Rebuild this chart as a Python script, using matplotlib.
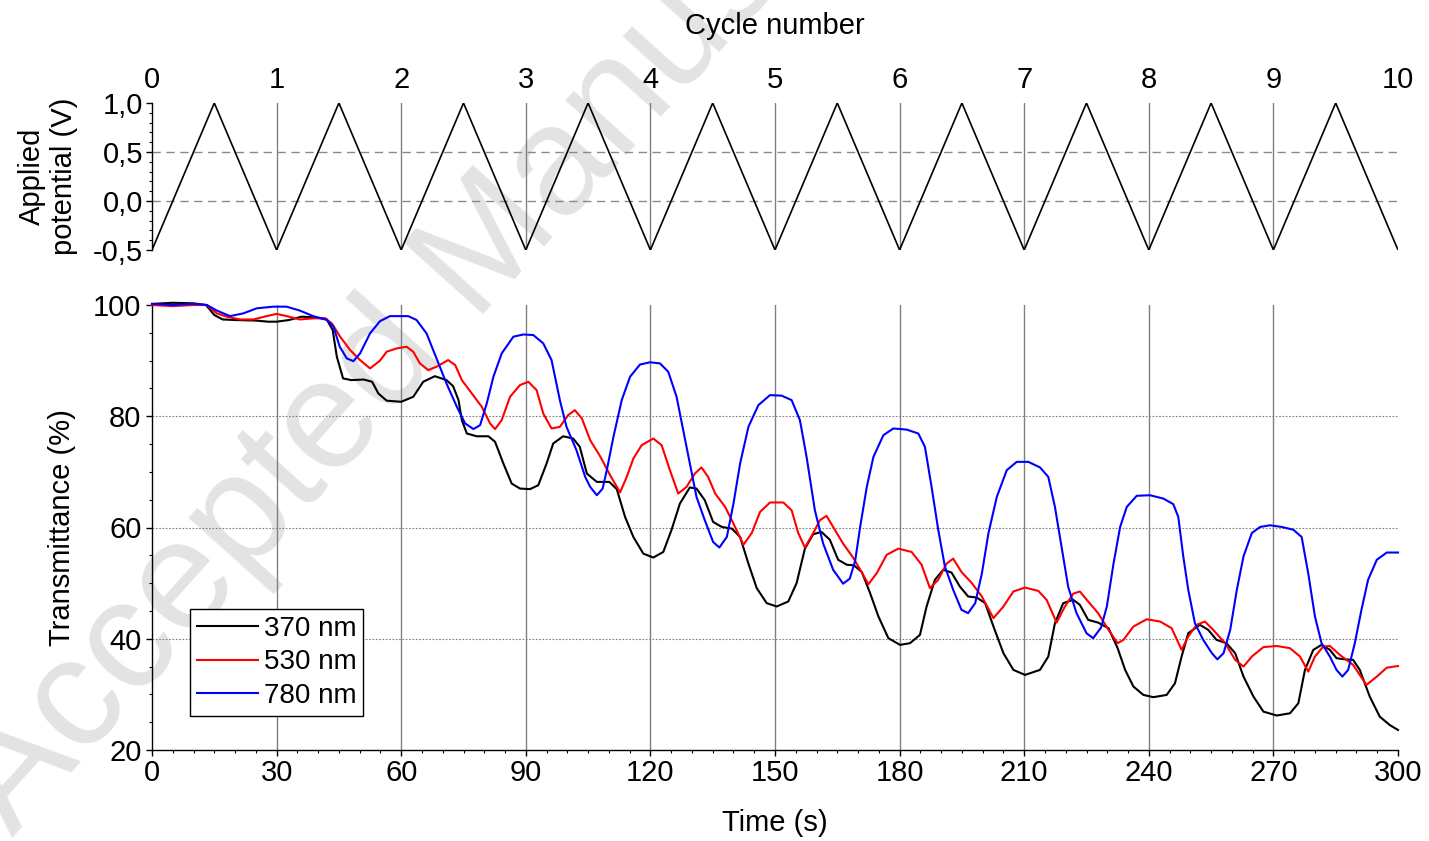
import matplotlib
matplotlib.use('Agg')
import matplotlib.pyplot as plt
from matplotlib.ticker import MultipleLocator

plt.rcParams['font.family'] = ['Liberation Sans', 'DejaVu Sans']

# ---------------- data ----------------
# Applied potential (triangle sweep), vertices in cycle units
cycle_pts = [0, 0.5, 1, 1.5, 2, 2.5, 3, 3.5, 4, 4.5, 5, 5.5, 6, 6.5, 7, 7.5, 8, 8.5, 9, 9.5, 10]
potential = [-0.5, 1.0, -0.5, 1.0, -0.5, 1.0, -0.5, 1.0, -0.5, 1.0, -0.5,
             1.0, -0.5, 1.0, -0.5, 1.0, -0.5, 1.0, -0.5, 1.0, -0.5]
cycle_ticks = [0, 1, 2, 3, 4, 5, 6, 7, 8, 9, 10]
cycle_labels = ['0', '1', '2', '3', '4', '5', '6', '7', '8', '9', '10']
pot_ticks = [-0.5, 0.0, 0.5, 1.0]
pot_labels = ['-0,5', '0,0', '0,5', '1,0']

# Transmittance, 370 nm
t_370 = [0, 5, 10, 13, 15, 17, 20, 25, 28, 30, 33, 36, 39, 42, 43.5, 44.5, 46, 48, 51, 53,
         54.5, 56.5, 60, 62.9, 65.3, 68.1, 70.9, 72.5, 73.8, 74.6, 75.8, 78.2, 81.0, 82.6,
         84.6, 86.6, 88.6, 91.0, 93.0, 95.0, 96.6, 99.0, 101.4, 103.0, 104.7, 107.1, 110.1,
         111.9, 113.9, 115.9, 118.3, 120.7, 123.1, 125.1, 127.1, 129.5, 131.1, 133.1, 135.1,
         137.2, 139.6, 141.6, 143.6, 145.6, 148.0, 150.4, 153.2, 155.2, 157.2, 159.2, 161.2,
         163.2, 165.2, 167.3, 169.0, 170.9, 172.9, 174.9, 177.3, 180.1, 182.5, 184.9, 186.5,
         188.5, 190.5, 192.5, 194.5, 196.5, 198.6, 200.6, 202.6, 205.0, 207.4, 210.2, 213.8,
         215.8, 217.4, 219.4, 221.8, 223.4, 225.4, 227.8, 230.3, 232.5, 234.3, 236.3, 238.7,
         241.1, 244.3, 246.3, 247.9, 249.5, 252.3, 254.3, 256.3, 258.7, 260.8, 262.8, 265.2,
         267.6, 270.8, 274.0, 276.0, 277.6, 279.6, 281.6, 283.6, 285.2, 287.2, 289.2, 290.8,
         293.2, 295.6, 298.0, 300]
T_370 = [100.2, 100.4, 100.3, 100.0, 98.2, 97.4, 97.3, 97.2, 97.0, 97.0, 97.3, 97.9, 97.8, 97.5,
         95.5, 90.7, 86.8, 86.5, 86.6, 86.2, 84.1, 82.8, 82.6, 83.5, 86.2, 87.2, 86.5, 85.4,
         82.9, 79.3, 76.9, 76.4, 76.4, 75.4, 71.5, 67.9, 67.0, 66.9, 67.6, 71.5, 75.1, 76.4,
         76.0, 74.5, 69.7, 68.2, 68.2, 66.9, 61.9, 58.3, 55.3, 54.6, 55.6, 59.6, 64.3, 67.2,
         67.0, 64.9, 61.0, 60.1, 59.8, 58.3, 53.5, 49.1, 46.4, 45.8, 46.7, 50.0, 56.2, 58.8,
         59.2, 57.8, 54.2, 53.3, 53.2, 52.0, 48.2, 44.0, 40.1, 38.9, 39.2, 40.7, 45.8, 50.6,
         52.4, 51.9, 49.4, 47.6, 47.4, 46.4, 42.2, 37.4, 34.4, 33.5, 34.4, 36.8, 42.8, 46.4,
         47.0, 46.1, 43.4, 42.9, 41.9, 38.3, 34.4, 31.4, 29.9, 29.5, 29.9, 32.0, 36.8, 41.0,
         42.5, 41.6, 39.8, 39.2, 37.4, 33.2, 29.6, 26.9, 26.2, 26.6, 28.4, 34.4, 38.0, 38.9,
         38.0, 36.5, 36.3, 36.2, 34.4, 29.6, 26.0, 24.5, 23.6]

# Transmittance, 530 nm
t_530 = [0, 5, 10, 13.2, 15.6, 18, 21.2, 24.4, 27.6, 30, 32.4, 35.6, 38.8, 41.7, 43.3, 45.3,
         47.7, 50.1, 52.5, 54.9, 56.5, 58.9, 61.3, 62.9, 64.5, 66.5, 68.5, 71.3, 73.0, 74.6,
         77.0, 79.4, 81.4, 82.6, 84.2, 86.2, 88.6, 90.6, 92.6, 94.2, 96.2, 98.2, 100.2, 101.8,
         103.5, 105.5, 107.9, 110.3, 112.7, 114.3, 115.9, 117.9, 120.7, 122.7, 124.7, 126.7,
         128.7, 130.7, 132.3, 133.9, 135.6, 138.0, 140.0, 142.4, 144.4, 146.4, 148.8, 152.0,
         154.0, 155.6, 157.2, 159.2, 160.8, 162.4, 164.0, 166.4, 168.8, 170.7, 172.5, 174.5,
         176.9, 179.7, 182.9, 185.3, 187.3, 189.3, 191.3, 192.9, 194.9, 197.4, 199.8, 202.6,
         205.0, 207.4, 210.2, 213.4, 215.4, 217.8, 219.8, 221.8, 223.4, 225.4, 227.8, 230.3,
         232.5, 233.9, 236.3, 239.5, 242.7, 245.5, 247.9, 249.5, 251.5, 253.5, 255.5, 258.4,
         260.8, 262.8, 264.8, 267.6, 270.8, 274.0, 276.4, 278.4, 280.0, 282.0, 283.6, 286.0,
         289.2, 292.4, 294.9, 297.3, 300]
T_530 = [100.0, 99.8, 100.0, 100.0, 98.5, 97.9, 97.4, 97.4, 98.0, 98.4, 98.0, 97.4, 97.6, 97.6,
         96.7, 94.3, 91.9, 90.1, 88.6, 90.0, 91.6, 92.2, 92.5, 91.6, 89.5, 88.3, 88.9, 90.1,
         89.2, 86.5, 84.1, 81.7, 78.7, 77.7, 79.3, 83.5, 85.6, 86.2, 84.7, 80.5, 77.8, 78.1,
         80.2, 81.1, 79.6, 75.7, 72.8, 69.4, 66.3, 69.1, 72.4, 74.8, 76.0, 74.8, 70.3, 66.1,
         67.3, 69.7, 70.8, 69.1, 66.1, 63.7, 60.7, 56.9, 59.0, 62.8, 64.5, 64.5, 63.1, 59.0,
         56.4, 59.0, 61.3, 62.1, 60.1, 57.1, 54.6, 52.2, 49.8, 51.8, 55.1, 56.2, 55.6, 53.3,
         49.1, 50.6, 53.5, 54.4, 52.0, 50.0, 47.6, 43.7, 45.8, 48.5, 49.2, 48.6, 47.0, 42.9,
         45.8, 48.1, 48.5, 46.7, 44.6, 41.6, 39.2, 39.8, 42.2, 43.5, 43.1, 41.9, 38.0, 40.4,
         42.5, 43.1, 41.6, 39.2, 36.2, 35.0, 36.8, 38.5, 38.7, 38.3, 36.8, 34.1, 36.8, 38.6,
         38.7, 37.1, 35.3, 31.7, 33.2, 34.8, 35.1]

# Transmittance, 780 nm
t_780 = [0, 5, 10, 13.2, 15.6, 18.8, 22.0, 25.2, 29.2, 32.4, 35.6, 38.8, 42.1, 43.7, 45.2, 46.9,
         48.5, 50.1, 52.5, 54.9, 57.3, 61.7, 63.7, 66.1, 68.5, 70.9, 73.4, 75.4, 77.4, 79.0,
         80.6, 82.2, 84.2, 87.0, 89.4, 91.8, 94.2, 96.2, 98.2, 99.8, 102.2, 104.3, 105.5, 107.1,
         108.5, 109.5, 111.1, 113.1, 115.1, 117.5, 119.9, 122.3, 124.3, 126.3, 127.9, 129.5, 131.1,
         133.1, 135.1, 136.6, 138.4, 140.0, 141.6, 143.6, 146.0, 148.8, 151.6, 154.0, 156.0,
         157.6, 159.6, 161.6, 164.0, 166.4, 168.0, 169.3, 170.5, 172.1, 173.7, 176.1, 178.5,
         181.7, 184.5, 186.1, 187.7, 189.3, 190.9, 192.9, 194.9, 196.5, 198.2, 199.8, 201.4,
         203.4, 205.8, 208.2, 211.0, 213.8, 215.8, 217.4, 219.0, 220.6, 222.6, 225.0, 226.6,
         228.5, 229.9, 231.5, 233.1, 234.7, 237.1, 240.3, 243.5, 245.9, 247.1, 248.3, 249.5,
         251.1, 253.1, 255.2, 256.5, 258.0, 259.6, 261.2, 262.8, 264.8, 266.8, 269.2, 272.0,
         274.8, 276.8, 278.4, 280.0, 281.6, 283.6, 285.2, 286.6, 288.0, 289.6, 291.2, 292.8,
         294.9, 297.3, 300]
T_780 = [100.2, 100.0, 100.2, 100.0, 99.0, 98.0, 98.5, 99.4, 99.7, 99.7, 99.0, 98.0, 97.3, 96.1,
         92.5, 90.4, 89.9, 91.3, 94.9, 97.1, 98.0, 98.0, 97.3, 94.9, 90.4, 85.9, 81.7, 78.7,
         77.7, 78.4, 82.3, 87.1, 91.3, 94.3, 94.7, 94.6, 93.1, 90.1, 82.9, 78.1, 73.9, 69.1,
         67.3, 65.8, 67.0, 70.3, 76.3, 82.9, 87.1, 89.3, 89.7, 89.5, 88.0, 83.5, 77.5, 71.5, 65.5,
         61.3, 57.4, 56.4, 58.3, 64.3, 71.5, 78.1, 82.0, 83.8, 83.7, 82.9, 79.3, 72.7, 63.1,
         57.1, 52.4, 49.9, 50.8, 54.0, 60.1, 67.3, 72.7, 76.6, 77.8, 77.6, 76.9, 74.5, 67.3,
         59.6, 53.0, 48.8, 45.2, 44.6, 46.4, 51.7, 59.0, 65.5, 70.3, 71.8, 71.8, 70.8, 69.1,
         63.7, 56.5, 49.3, 44.6, 41.0, 40.1, 42.0, 45.8, 53.5, 60.1, 63.7, 65.7, 65.8, 65.2,
         64.2, 61.9, 54.8, 48.8, 42.8, 39.8, 37.4, 36.3, 37.4, 41.6, 48.8, 54.8, 59.0, 60.1,
         60.4, 60.1, 59.6, 58.3, 51.7, 44.0, 39.2, 36.8, 34.4, 33.2, 34.4, 39.2, 45.2, 50.6,
         54.2, 55.5, 55.5]

series_labels = ['370 nm', '530 nm', '780 nm']
series_colors = ['#000000', '#ff0000', '#0000ff']

time_ticks = [0, 30, 60, 90, 120, 150, 180, 210, 240, 270, 300]
time_grid = [30, 60, 90, 120, 150, 180, 210, 240, 270]
trans_ticks = [20, 40, 60, 80, 100]
trans_grid = [40, 60, 80]
cycle_grid = [1, 2, 3, 4, 5, 6, 7, 8, 9]
pot_grid = [0.0, 0.5]

# ---------------- figure ----------------
W, H = 1429, 841
fig = plt.figure(figsize=(W / 100, H / 100), dpi=100)

# watermark
fig.text(12 / W, 1 - 838 / H, 'Accepted Manuscript', rotation=48, fontsize=112,
         color='#e3e3e3', ha='left', va='baseline', rotation_mode='anchor', zorder=-5)

FS = 21
ax_top = fig.add_axes([152 / W, 1 - 250 / H, 1246 / W, 147 / H], facecolor='none')
ax_bot = fig.add_axes([152 / W, 1 - 750 / H, 1246 / W, 445 / H], facecolor='none')

# ---- top panel ----
ax_top.plot(cycle_pts, potential, color='black', lw=1.2, zorder=3)
for c in cycle_grid:
    ax_top.axvline(c, color='#808080', lw=1.0, zorder=1)
for p in pot_grid:
    ax_top.axhline(p, color='#8a8a8a', lw=1.0, ls=(0, (6, 4)), zorder=1)
ax_top.set_xlim(0, 10)
ax_top.set_ylim(-0.5, 1.0)
for s in ['top', 'right', 'bottom']:
    ax_top.spines[s].set_visible(False)
ax_top.spines['left'].set_linewidth(1.0)
ax_top.xaxis.tick_top()
ax_top.set_xticks(cycle_ticks)
ax_top.set_xticklabels(cycle_labels)
ax_top.tick_params(axis='x', which='both', length=0, pad=6.5, labelsize=FS)
ax_top.set_yticks(pot_ticks)
ax_top.set_yticklabels(pot_labels)
ax_top.yaxis.set_minor_locator(MultipleLocator(0.1))
ax_top.tick_params(axis='y', which='major', length=4.5, width=1.0, pad=2, labelsize=FS, direction='out')
ax_top.tick_params(axis='y', which='minor', length=2.5, width=0.8, direction='out')

# ---- bottom panel ----
for x in time_grid:
    ax_bot.axvline(x, color='#808080', lw=1.0, zorder=1)
for y in trans_grid:
    ax_bot.axhline(y, color='#808080', lw=0.8, ls=(0, (1.5, 1.5)), zorder=1)
series = [(t_370, T_370), (t_530, T_530), (t_780, T_780)]
for (tt, vv), lab, col in zip(series, series_labels, series_colors):
    ax_bot.plot(tt, vv, color=col, lw=1.5, label=lab, zorder=3, clip_on=False,
                solid_joinstyle='round')
ax_bot.set_xlim(0, 300)
ax_bot.set_ylim(20, 100)
for s in ['top', 'right']:
    ax_bot.spines[s].set_visible(False)
ax_bot.spines['left'].set_linewidth(1.0)
ax_bot.spines['bottom'].set_linewidth(1.0)
ax_bot.set_xticks(time_ticks)
ax_bot.set_yticks(trans_ticks)
ax_bot.xaxis.set_minor_locator(MultipleLocator(5))
ax_bot.yaxis.set_minor_locator(MultipleLocator(5))
ax_bot.tick_params(axis='both', which='major', length=4.5, width=1.0, labelsize=FS, direction='out')
ax_bot.tick_params(axis='x', which='major', pad=2)
ax_bot.tick_params(axis='y', which='major', pad=3)
ax_bot.tick_params(axis='both', which='minor', length=2.5, width=0.8, direction='out')

leg = ax_bot.legend(loc='lower left', bbox_to_anchor=(38 / 1246, 34 / 445), borderaxespad=0,
                    fontsize=20, frameon=True, fancybox=False, edgecolor='black',
                    framealpha=1, handlelength=2.2, handletextpad=0.2, labelspacing=0.28,
                    borderpad=0.25)
leg.get_frame().set_linewidth(1.0)
leg.set_zorder(5)

# ---- labels ----
fig.text(775 / W, 1 - 26 / H, 'Cycle number', ha='center', va='center', fontsize=FS)
fig.text(775 / W, 1 - 823 / H, 'Time (s)', ha='center', va='center', fontsize=FS)
fig.text(62 / W, 1 - 528 / H, 'Transmittance (%)', ha='center', va='center', rotation=90, fontsize=FS)
fig.text(48 / W, 1 - 176 / H, 'Applied\npotential (V)', ha='center', va='center', rotation=90,
         fontsize=FS, multialignment='center', linespacing=1.15)

fig.savefig('out.png', dpi=100)
